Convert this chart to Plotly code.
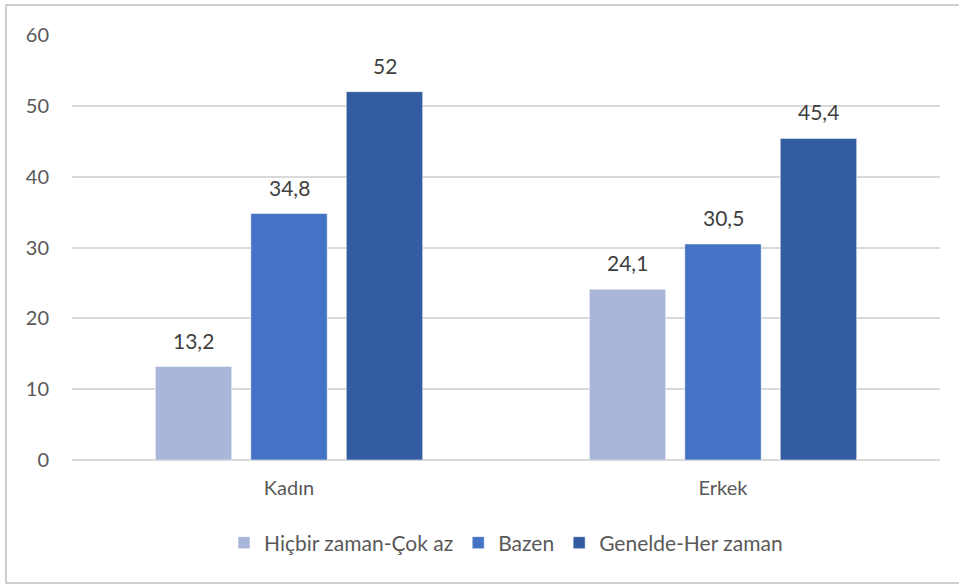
import plotly.graph_objects as go

categories = ["Kadın", "Erkek"]
series_names = ["Hiçbir zaman-Çok az", "Bazen", "Genelde-Her zaman"]
values = {
    "Hiçbir zaman-Çok az": [13.2, 24.1],
    "Bazen": [34.8, 30.5],
    "Genelde-Her zaman": [52, 45.4],
}
colors = ["#A9B6DA", "#4472C4", "#345CA0"]
y_ticks = [0, 10, 20, 30, 40, 50, 60]

FONT = "Lato, Open Sans, sans-serif"

def fmt(v):
    return ("%g" % v).replace(".", ",")

fig = go.Figure()
for name, c in zip(series_names, colors):
    fig.add_trace(go.Bar(
        name=name, x=categories, y=values[name],
        marker=dict(color=c, line=dict(color="rgba(255,255,255,0.5)", width=1)),
        hoverinfo="skip",
    ))

slot = 95.5
anns = []
for i, name in enumerate(series_names):
    for cat, v in zip(categories, values[name]):
        anns.append(dict(
            x=cat, y=v, xref="x", yref="y", text=fmt(v), showarrow=False,
            xshift=(i - 1) * slot, yshift=12, yanchor="bottom",
            font=dict(family=FONT, size=21, color="#404040"),
        ))

L, R, T, B = 72, 19, 35, 125
W, H = 959, 585
pw, ph = W - L - R, H - T - B

fig.update_layout(
    width=W, height=H,
    margin=dict(l=L, r=R, t=T, b=B),
    paper_bgcolor="white", plot_bgcolor="white",
    barmode="group", bargap=0.34, bargroupgap=0.2,
    font=dict(family=FONT, size=16, color="#595959"),
    showlegend=True,
    legend=dict(orientation="h", x=0.5, xanchor="center", y=(460 - 543) / ph, yanchor="middle",
                font=dict(family=FONT, size=21, color="#595959"),
                itemwidth=30, traceorder="normal"),
    xaxis=dict(showgrid=False, showline=False, ticks="", tickfont=dict(size=20),
               ticklabelstandoff=14),
    yaxis=dict(range=[0, 60], tickvals=y_ticks, showgrid=True, gridcolor="#D9D9D9",
               gridwidth=1.5, zeroline=True, zerolinecolor="#D9D9D9", zerolinewidth=1.5,
               showline=False, ticks="", tickfont=dict(size=20), ticklabelstandoff=22),
    annotations=anns,
    shapes=[dict(type="rect", xref="paper", yref="paper",
                 x0=(6 - L) / pw, x1=(965 - L) / pw,
                 y0=(460 - 583) / ph, y1=(460 - 5) / ph,
                 line=dict(color="#BFBFBF", width=1.5), layer="below")],
)

fig.write_html("out.html", config={"displayModeBar": False},
               post_script="document.body.style.margin='0';")
